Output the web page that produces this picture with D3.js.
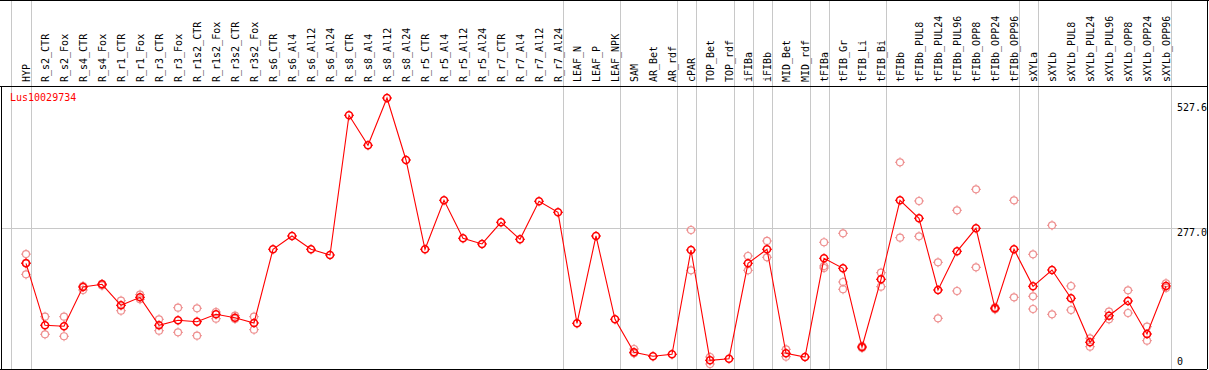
<!DOCTYPE html>
<html>
<head>
<meta charset="utf-8">
<script src="https://cdn.jsdelivr.net/npm/d3@7"></script>
<style>
  body { margin: 0; background: #fff; }
  svg { display: block; }
  text { font-family: "DejaVu Sans Mono", monospace; font-size: 10px; }
</style>
</head>
<body>
<svg id="chart" width="1209" height="370"></svg>
<script>
// sample names, left to right
var categories = ["HYP",
  "R_s2_CTR", "R_s2_Fox", "R_s4_CTR", "R_s4_Fox", "R_r1_CTR", "R_r1_Fox", "R_r3_CTR", "R_r3_Fox",
  "R_r1s2_CTR", "R_r1s2_Fox", "R_r3s2_CTR", "R_r3s2_Fox",
  "R_s6_CTR", "R_s6_Al4", "R_s6_Al12", "R_s6_Al24", "R_s8_CTR", "R_s8_Al4", "R_s8_Al12", "R_s8_Al24",
  "R_r5_CTR", "R_r5_Al4", "R_r5_Al12", "R_r5_Al24", "R_r7_CTR", "R_r7_Al4", "R_r7_Al12", "R_r7_Al24",
  "LEAF_N", "LEAF_P", "LEAF_NPK", "SAM", "AR_Bet", "AR_rdf", "cPAR", "TOP_Bet", "TOP_rdf",
  "iFIBa", "iFIBb", "MID_Bet", "MID_rdf", "tFIBa", "tFIB_Gr", "tFIB_Li", "tFIB_Bi",
  "tFIBb", "tFIBb_PUL8", "tFIBb_PUL24", "tFIBb_PUL96", "tFIBb_OPP8", "tFIBb_OPP24", "tFIBb_OPP96",
  "sXYLa", "sXYLb", "sXYLb_PUL8", "sXYLb_PUL24", "sXYLb_PUL96", "sXYLb_OPP8", "sXYLb_OPP24", "sXYLb_OPP96"];

// how many samples sit in each separated group
var groupSizes = [1, 28, 3, 3, 1, 2, 1, 1, 2, 1, 3, 7, 1, 7];

// mean expression per sample
var means = [209.3,
  89.9, 88.0, 163.7, 168.9, 128.4, 143.8, 89.9, 99.6,
  96.9, 111.1, 104.6, 94.4,
  236.3, 261.9, 236.3, 225.3, 494.3, 436.6, 527.6, 408.2,
  236.3, 330.6, 257.5, 246.5, 288.3, 255.5, 328.7, 307.5,
  93.8, 261.9, 101.5, 37.9, 30.2, 34.1, 234.9, 22.5, 25.6,
  209.3, 236.3, 36.0, 28.9, 218.9, 199.7, 48.1, 178.5,
  330.6, 296.0, 157.9, 232.4, 276.7, 122.7, 236.3,
  165.0, 196.4, 141.9, 57.2, 108.4, 136.7, 73.2, 165.6];

// individual replicates per sample
var replicates = [[227, 210, 188],
  [106.5, 72.6], [106.5, 68.8], [165.6, 157.9], [169.5, 166.6], [137.3, 118.0], [148.9, 140.0], [101.5, 79.5], [123.8, 76.4],
  [122.7, 69.9], [115.5, 102.6], [108.4, 102.1], [106.5, 81.5],
  [], [], [], [], [], [], [], [],
  [], [], [], [], [], [], [], [],
  [], [], [], [44.3, 36.0], [], [], [273.4, 195.8], [28.9, 15.4], [],
  [223.4, 195.8], [252.3, 220.9], [43.7, 29.5], [], [249.8, 204.1, 200.3], [267.1, 173.3, 159.3], [50.1, 46.2], [191.2, 164.3],
  [403.8, 258.6], [329.3, 261.3], [211.2, 103.4], [311.4, 156.0], [351.8, 201.6], [124.6, 120.7], [330.6, 143.8],
  [226.6, 145.8, 121.3], [282.5, 111.1], [165.6, 119.4], [64.9, 48.7], [116.1, 101.5], [157.3, 113.6], [87.2, 60.3], [170.8, 161.8]];

var yTicks = [0, 277.0, 527.6];
var geneName = "Lus10029734";

var width = 1209, height = 370;
var headerBottom = 86, plotBottom = 369, plotLeft = 1, plotRight = 1207;

var svg = d3.select("#chart");

var x = d3.scalePoint().domain(categories).range([26, 1166]);
var y = d3.scaleLinear().domain([0, 527.6]).range([372, 98]);

// group separators (vertical gray lines through header and plot)
var sepX = [x(categories[0]) - 15.5];
var idx = 0;
groupSizes.forEach(function (n) {
    idx += n;
    sepX.push(x(categories[idx - 1]) + 4.5);
});

svg.append("g")
    .selectAll("line")
    .data(sepX)
    .enter().append("line")
    .attr("x1", function (d) { return Math.round(d) + 0.5; })
    .attr("x2", function (d) { return Math.round(d) + 0.5; })
    .attr("y1", 0)
    .attr("y2", plotBottom)
    .style("stroke", "#c8c8c8")
    .style("shape-rendering", "crispEdges");

// middle gridline
svg.append("line")
    .attr("x1", plotLeft)
    .attr("x2", plotRight)
    .attr("y1", Math.round(y(yTicks[1])) + 0.5)
    .attr("y2", Math.round(y(yTicks[1])) + 0.5)
    .style("stroke", "#c8c8c8")
    .style("shape-rendering", "crispEdges");

// frame
var frame = svg.append("g")
    .style("stroke", "#000")
    .style("shape-rendering", "crispEdges");
frame.append("line").attr("x1", 0).attr("x2", width).attr("y1", 0.5).attr("y2", 0.5);
frame.append("line").attr("x1", 0).attr("x2", plotRight).attr("y1", headerBottom + 0.5).attr("y2", headerBottom + 0.5);
frame.append("line").attr("x1", 0).attr("x2", plotRight).attr("y1", plotBottom + 0.5).attr("y2", plotBottom + 0.5);
frame.append("line").attr("x1", plotLeft + 0.5).attr("x2", plotLeft + 0.5).attr("y1", headerBottom).attr("y2", plotBottom);
frame.append("line").attr("x1", plotRight + 0.5).attr("x2", plotRight + 0.5).attr("y1", 0).attr("y2", plotBottom);

// rotated sample labels
svg.append("g")
    .selectAll("text")
    .data(categories)
    .enter().append("text")
    .attr("transform", function (d) { return "translate(" + x(d) + ",82) rotate(-90)"; })
    .attr("dy", "0.35em")
    .style("text-anchor", "start")
    .style("fill", "#000")
    .text(function (d) { return d; });

// y tick labels on the right
svg.append("g")
    .selectAll("text")
    .data(yTicks)
    .enter().append("text")
    .attr("x", 1177)
    .attr("y", function (d, i) {
        if (i === 0) return y(d) - 7;
        if (i === yTicks.length - 1) return y(d) + 13;
        return y(d) + 8;
    })
    .style("fill", "#000")
    .text(function (d) { return d === 0 ? "0" : d.toFixed(1); });

// gene id
svg.append("text")
    .attr("x", 10)
    .attr("y", 101)
    .style("fill", "red")
    .text(geneName);

// marker: ring with four small ticks
var marker = function (sel, color, sw) {
    sel.append("circle")
        .attr("r", 3.5)
        .style("fill", "none")
        .style("stroke", color)
        .style("stroke-width", sw);
    sel.append("path")
        .attr("d", "M0,-5V-3.5M0,3.5V5M-5,0H-3.5M3.5,0H5")
        .style("stroke", color)
        .style("stroke-width", 1);
};

// replicates
var repPts = [];
replicates.forEach(function (arr, i) {
    arr.forEach(function (v) { repPts.push({ cat: categories[i], v: v }); });
});
svg.append("g")
    .selectAll("g")
    .data(repPts)
    .enter().append("g")
    .attr("transform", function (d) { return "translate(" + x(d.cat) + "," + y(d.v) + ")"; })
    .call(marker, "#ee9090", 1.2);

// mean line
var line = d3.line()
    .x(function (d, i) { return x(categories[i]); })
    .y(function (d) { return y(d); });

svg.append("path")
    .datum(means)
    .attr("d", line)
    .style("fill", "none")
    .style("stroke", "red")
    .style("stroke-width", 1.1);

svg.append("g")
    .selectAll("g")
    .data(means)
    .enter().append("g")
    .attr("transform", function (d, i) { return "translate(" + x(categories[i]) + "," + y(d) + ")"; })
    .call(marker, "red", 1.6);
</script>
</body>
</html>
